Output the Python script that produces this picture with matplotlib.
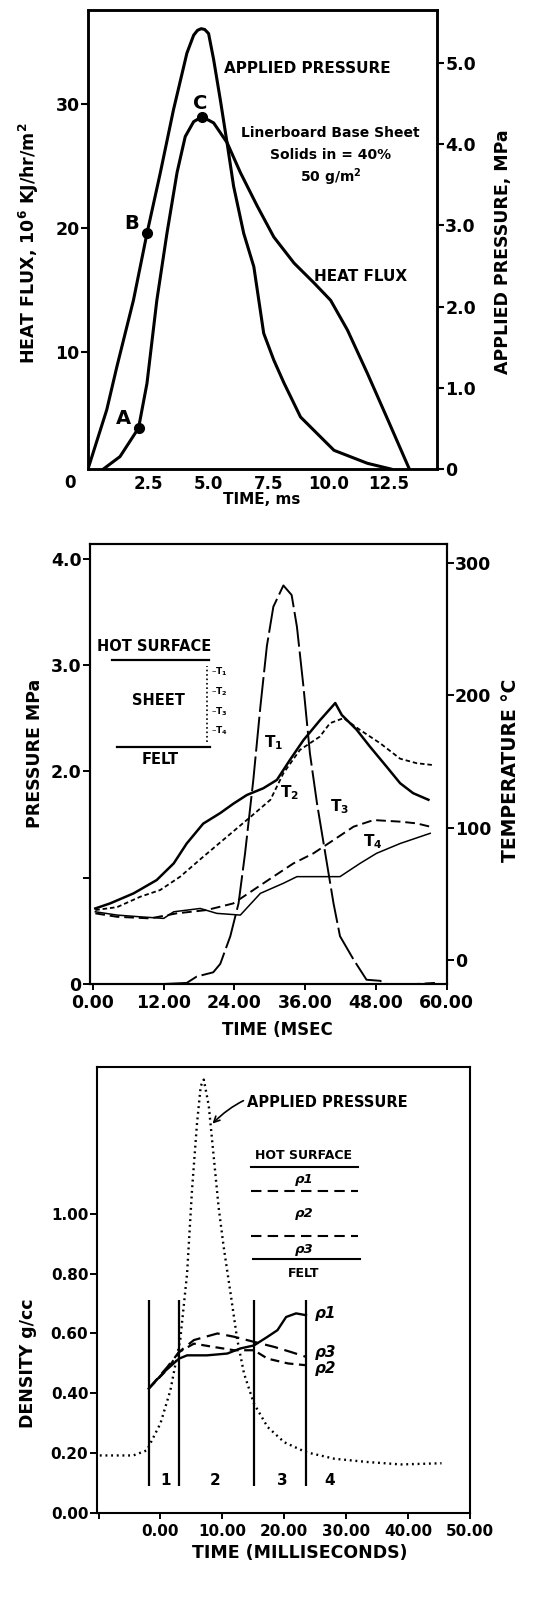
import matplotlib
matplotlib.use("Agg")
import matplotlib.pyplot as plt

plt.rcParams['font.family'] = ['DejaVu Sans']
plt.rcParams['font.weight'] = 'bold'
plt.rcParams['mathtext.fontset'] = 'dejavusans'
plt.rcParams['mathtext.default'] = 'bf'

# ---- panel 1: heat flux and applied pressure vs time (ms)
p1_press_t = [0, 0.78, 1.2, 1.89, 2.45, 3.0, 3.55, 4.11, 4.39, 4.55, 4.7, 4.85, 5.01, 5.22,
              5.5, 5.78, 6.05, 6.47, 6.89, 7.3, 7.72, 8.14, 8.83, 10.22, 11.61, 12.58]
p1_press = [0, 0.73, 1.26, 2.08, 2.9, 3.64, 4.42, 5.12, 5.34, 5.40, 5.42, 5.41, 5.36, 5.04,
            4.54, 4.01, 3.48, 2.9, 2.49, 1.67, 1.34, 1.06, 0.64, 0.23, 0.07, 0]
p1_flux_t = [0.64, 1.33, 2.1, 2.45, 2.86, 3.28, 3.7, 4.04, 4.39, 4.74, 5.22, 5.78, 6.33,
             7.03, 7.72, 8.56, 9.39, 10.08, 10.78, 11.61, 12.45, 13.35]
p1_flux = [0.6, 1.6, 3.9, 7.5, 14.2, 19.6, 24.5, 27.4, 28.6, 29.0, 28.5, 26.9, 24.5,
           21.8, 19.3, 17.2, 15.6, 14.2, 11.8, 8.3, 4.6, 0.6]
p1_xticks = [2.5, 5.0, 7.5, 10.0, 12.5]
p1_flux_ticks = [10, 20, 30]
p1_press_ticks = [0, 1.0, 2.0, 3.0, 4.0, 5.0]

# ---- panel 2: pressure and temperatures vs time (msec)
p2_press_t = [12.0, 15.9, 17.6, 20.4, 21.6, 23.3, 24.7, 25.8, 27.2, 28.4, 29.5, 30.6, 32.3,
              33.7, 34.6, 35.7, 36.8, 38.0, 39.4, 40.8, 41.9, 44.2, 46.4, 48.7, 50.9, 54.9, 58.0]
p2_press = [0, 0.01, 0.07, 0.11, 0.19, 0.45, 0.76, 1.23, 1.92, 2.61, 3.18, 3.55, 3.75,
            3.66, 3.36, 2.80, 2.17, 1.70, 1.23, 0.76, 0.45, 0.23, 0.04, 0.03, -0.03, 0, 0.01]
t1_t = [0.4, 2.9, 6.9, 10.8, 13.7, 15.9, 18.7, 21.6, 23.8, 26.1, 28.9, 31.2, 33.4, 35.7,
        38.5, 41.1, 42.2, 44.7, 47.0, 49.8, 52.1, 54.3, 56.9]
t1 = [39, 42.8, 50.4, 60.4, 73, 88, 103, 111, 118, 124.6, 129.7, 136, 151, 166,
      181, 194, 185, 174, 161, 146, 133.5, 126, 121]
t2_t = [0.4, 4.1, 8.0, 11.4, 14.8, 18.7, 22.7, 26.7, 30.1, 32.3, 35.1, 38.5, 40.2, 42.5,
        45.3, 48.7, 52.1, 54.9, 57.5]
t2 = [37.8, 40, 47.8, 52.9, 63, 78, 93, 108, 121, 141, 158.6, 168.7, 178.8, 182.6,
      173.7, 163.7, 152, 148.6, 147.3]
t3_t = [0.4, 4.1, 9.7, 14.2, 19.3, 23.8, 27.2, 30.6, 34.0, 37.4, 40.8, 44.2, 47.6, 52.1,
        54.9, 57.2]
t3 = [35.3, 32.7, 31.5, 35.3, 37.8, 42.8, 52.9, 63, 73, 80.6, 90.6, 100.7, 105.7, 104.5,
      103.2, 100.7]
t4_t = [0.4, 4.1, 8.0, 12.0, 13.7, 18.2, 21.0, 25.0, 28.4, 32.3, 34.6, 38.0, 41.9, 45.3,
        48.1, 52.1, 57.2]
t4 = [36.5, 34, 32.7, 31.5, 36.5, 39, 35.3, 34, 50.4, 58, 63, 63, 63, 73, 80.6, 88, 95.7]
p2_xticks = [0, 12, 24, 36, 48, 60]
p2_press_ticks = [0, 1.0, 2.0, 3.0, 4.0]
p2_press_labels = ['0', '', '2.0', '3.0', '4.0']
p2_temp_ticks = [0, 100, 200, 300]

# ---- panel 3: density vs time (milliseconds)
p3_press_t = [-9.8, -4.4, -2.2, 0, 1.6, 3.2, 4.3, 5.1, 5.9, 6.5, 7.0, 7.8, 8.6, 9.4, 10.2,
              11.35, 12.4, 13.5, 15.1, 17.3, 20.0, 23.5, 28.1, 33.5, 38.9, 45.4]
p3_press = [0.193, 0.193, 0.21, 0.30, 0.41, 0.58, 0.80, 1.08, 1.30, 1.425, 1.447, 1.36,
            1.19, 1.02, 0.89, 0.73, 0.58, 0.466, 0.366, 0.288, 0.237, 0.204, 0.182,
            0.171, 0.163, 0.167]
rho1_t = [-1.9, 0.5, 3.0, 4.3, 7.5, 10.8, 12.9, 15.1, 17.3, 18.9, 20.3, 21.9, 23.5]
rho1 = [0.416, 0.47, 0.516, 0.527, 0.527, 0.533, 0.55, 0.56, 0.589, 0.611, 0.655, 0.667, 0.661]
rho3_t = [-1.9, 1.1, 3.0, 5.4, 9.2, 11.9, 15.1, 18.4, 21.1, 23.5]
rho3 = [0.416, 0.488, 0.538, 0.578, 0.60, 0.589, 0.572, 0.555, 0.538, 0.522]
rho2_t = [-1.9, 1.1, 3.0, 5.4, 8.6, 11.9, 15.1, 17.3, 20.6, 23.5]
rho2 = [0.416, 0.48, 0.538, 0.566, 0.555, 0.544, 0.544, 0.516, 0.50, 0.494]
zone_edges = [-1.9, 2.97, 15.1, 23.5]
zone_labels = ['1', '2', '3', '4']
zone_label_t = [0.8, 8.9, 19.7, 27.3]
p3_xticks = [-10, 0, 10, 20, 30, 40, 50]
p3_xlabels = ['', '0.00', '10.00', '20.00', '30.00', '40.00', '50.00']
p3_yticks = [0, 0.2, 0.4, 0.6, 0.8, 1.0]

W, H = 543, 1597
fig = plt.figure(figsize=(W / 100, H / 100), dpi=100)


def box(l, t, r, b):
    return [l / W, 1 - b / H, (r - l) / W, (b - t) / H]


def ftext(px, py, s, **kw):
    fig.text(px / W, 1 - py / H, s, ha='center', va='center', **kw)


# ================= panel 1
ax1 = fig.add_axes(box(88, 10, 437, 469))
ax1r = ax1.twinx()
ax1.set_xlim(0, 14.5)
ax1.set_ylim(0.6, 37.6)
ax1r.set_ylim(0, 5.65)
ax1r.plot(p1_press_t, p1_press, color='black', lw=2.2)
ax1.plot(p1_flux_t, p1_flux, color='black', lw=2.2)
ax1.plot([2.1, 4.74], [3.9, 29.0], 'o', color='black', ms=7)
ax1r.plot([2.45], [2.9], 'o', color='black', ms=7)
ax1.text(4.67, 30.1, 'C', fontsize=14, ha='center', va='center')
ax1.text(1.82, 20.4, 'B', fontsize=14, ha='center', va='center')
ax1.text(1.46, 4.7, 'A', fontsize=14, ha='center', va='center')
ax1.text(5.63, 32.9, 'APPLIED PRESSURE', fontsize=11, va='center')
ax1.text(10.08, 27.7, 'Linerboard Base Sheet', fontsize=10, ha='center', va='center')
ax1.text(10.08, 25.9, 'Solids in = 40%', fontsize=10, ha='center', va='center')
ax1.text(10.08, 24.1, '50 g/m$^2$', fontsize=10, ha='center', va='center')
ax1.text(9.38, 16.1, 'HEAT FLUX', fontsize=11, va='center')
ax1.set_xticks(p1_xticks)
ax1.set_xticklabels([f'{v:.1f}' for v in p1_xticks])
ax1.tick_params(axis='x', length=0, labelsize=12, pad=4)
ax1.text(-0.75, -0.5, '0', fontsize=12, ha='center', va='center')
ax1.set_yticks(p1_flux_ticks)
ax1.tick_params(axis='y', length=5, width=1.5, labelsize=12.5, pad=1)
ax1r.set_yticks(p1_press_ticks)
ax1r.set_yticklabels(['0'] + [f'{v:.1f}' for v in p1_press_ticks[1:]])
ax1r.tick_params(axis='y', length=5, width=1.5, labelsize=12.5, pad=1)
for a in (ax1, ax1r):
    for s in a.spines.values():
        s.set_linewidth(1.8)
ftext(29, 243, 'HEAT FLUX, 10$^6$ KJ/hr/m$^2$', fontsize=12.5, rotation=90)
ftext(503, 252, 'APPLIED PRESSURE, MPa', fontsize=12.5, rotation=90)
ftext(262, 499, 'TIME, ms', fontsize=11)

# ================= panel 2
ax2 = fig.add_axes(box(90, 544, 446.7, 984))
ax2r = ax2.twinx()
ax2.set_xlim(-0.5, 60)
ax2.set_ylim(0, 4.14)
ax2r.set_ylim(-18, 314)
ax2.plot(p2_press_t, p2_press, color='black', lw=1.4, dashes=(18, 2.5))
ax2r.plot(t1_t, t1, color='black', lw=1.8)
ax2r.plot(t2_t, t2, color='black', lw=1.3, dashes=(2.5, 1.6))
ax2r.plot(t3_t, t3, color='black', lw=1.4, dashes=(5, 2.5))
ax2r.plot(t4_t, t4, color='black', lw=1.1)
ax2.text(0.68, 3.18, 'HOT SURFACE', fontsize=10.5, va='center')
ax2.plot([3.2, 19.6], [3.05, 3.05], color='black', lw=1.6)
ax2.text(11.1, 2.67, 'SHEET', fontsize=10.5, ha='center', va='center')
ax2.plot([4.1, 19.9], [2.23, 2.23], color='black', lw=1.6)
ax2.text(11.4, 2.11, 'FELT', fontsize=10.5, ha='center', va='center')
ax2.plot([19.3, 19.3], [2.28, 2.99], color='black', lw=1.2, ls=':')
for i, yv in enumerate([2.94, 2.75, 2.56, 2.38]):
    ax2.text(20.0, yv, '–T$_%d$' % (i + 1), fontsize=6.5, va='center')
ax2.text(30.6, 2.27, 'T$_1$', fontsize=11, ha='center', va='center')
ax2.text(33.4, 1.80, 'T$_2$', fontsize=11, ha='center', va='center')
ax2.text(41.9, 1.67, 'T$_3$', fontsize=11, ha='center', va='center')
ax2.text(47.5, 1.34, 'T$_4$', fontsize=11, ha='center', va='center')
ax2.set_xticks(p2_xticks)
ax2.set_xticklabels([f'{v:.2f}' for v in p2_xticks])
ax2.tick_params(axis='x', length=4, width=1.4, labelsize=12.5, pad=3)
ax2.set_yticks(p2_press_ticks)
ax2.set_yticklabels(p2_press_labels)
ax2.tick_params(axis='y', length=5, width=1.4, labelsize=12.5, pad=1)
ax2r.set_yticks(p2_temp_ticks)
ax2r.tick_params(axis='y', length=5, width=1.4, labelsize=12.5, pad=1)
for a in (ax2, ax2r):
    for s in a.spines.values():
        s.set_linewidth(1.5)
ftext(35, 753, 'PRESSURE MPa', fontsize=12.5, rotation=90)
ftext(510, 770, 'TEMPERATURE °C', fontsize=13.5, rotation=90)
ftext(277, 1030, 'TIME (MSEC', fontsize=12)

# ================= panel 3
ax3 = fig.add_axes(box(96.7, 1066.7, 470, 1513.3))
ax3.set_xlim(-10.3, 50)
ax3.set_ylim(0, 1.49)
ax3.plot(p3_press_t, p3_press, color='black', lw=1.7, ls=(0, (0.8, 1.6)))
ax3.plot(rho1_t, rho1, color='black', lw=1.7)
ax3.plot(rho3_t, rho3, color='black', lw=1.6, dashes=(6, 3))
ax3.plot(rho2_t, rho2, color='black', lw=1.6, dashes=(4, 2.5))
ax3.vlines(zone_edges, 0.09, 0.71, color='black', lw=1.6)
for lab, tx in zip(zone_labels, zone_label_t):
    ax3.text(tx, 0.109, lab, fontsize=11, ha='center', va='center')
ax3.text(24.9, 0.667, 'ρ1', fontsize=11, style='italic', va='center')
ax3.text(24.9, 0.538, 'ρ3', fontsize=11, style='italic', va='center')
ax3.text(24.9, 0.483, 'ρ2', fontsize=11, style='italic', va='center')
ax3.annotate('APPLIED PRESSURE', xy=(8.4, 1.30), xytext=(14.05, 1.37), fontsize=10.5,
             va='center', ha='left',
             arrowprops=dict(arrowstyle='->', color='black', lw=1.2,
                             connectionstyle='arc3,rad=0.35', shrinkA=1, shrinkB=0))
ax3.text(23.1, 1.193, 'HOT SURFACE', fontsize=9, ha='center', va='center')
ax3.plot([14.6, 31.9], [1.155, 1.155], color='black', lw=1.5)
ax3.text(23.2, 1.115, 'ρ1', fontsize=9.5, style='italic', ha='center', va='center')
ax3.plot([14.6, 31.9], [1.074, 1.074], color='black', lw=1.5, dashes=(5, 3))
ax3.text(23.2, 1.001, 'ρ2', fontsize=9.5, style='italic', ha='center', va='center')
ax3.plot([14.6, 31.9], [0.925, 0.925], color='black', lw=1.5, dashes=(5, 3))
ax3.text(23.2, 0.881, 'ρ3', fontsize=9.5, style='italic', ha='center', va='center')
ax3.plot([14.9, 32.2], [0.849, 0.849], color='black', lw=1.5)
ax3.text(23.2, 0.80, 'FELT', fontsize=9, ha='center', va='center')
ax3.set_xticks(p3_xticks)
ax3.set_xticklabels(p3_xlabels)
ax3.tick_params(axis='x', length=4, width=1.4, labelsize=11, pad=4)
ax3.set_yticks(p3_yticks)
ax3.set_yticklabels([f'{v:.2f}' for v in p3_yticks])
ax3.tick_params(axis='y', length=5, width=1.4, labelsize=11, pad=1)
for s in ax3.spines.values():
    s.set_linewidth(1.5)
ftext(28, 1363, 'DENSITY g/cc', fontsize=12.5, rotation=90)
ftext(300, 1553, 'TIME (MILLISECONDS)', fontsize=12.5)

fig.savefig('out.png', dpi=100)
